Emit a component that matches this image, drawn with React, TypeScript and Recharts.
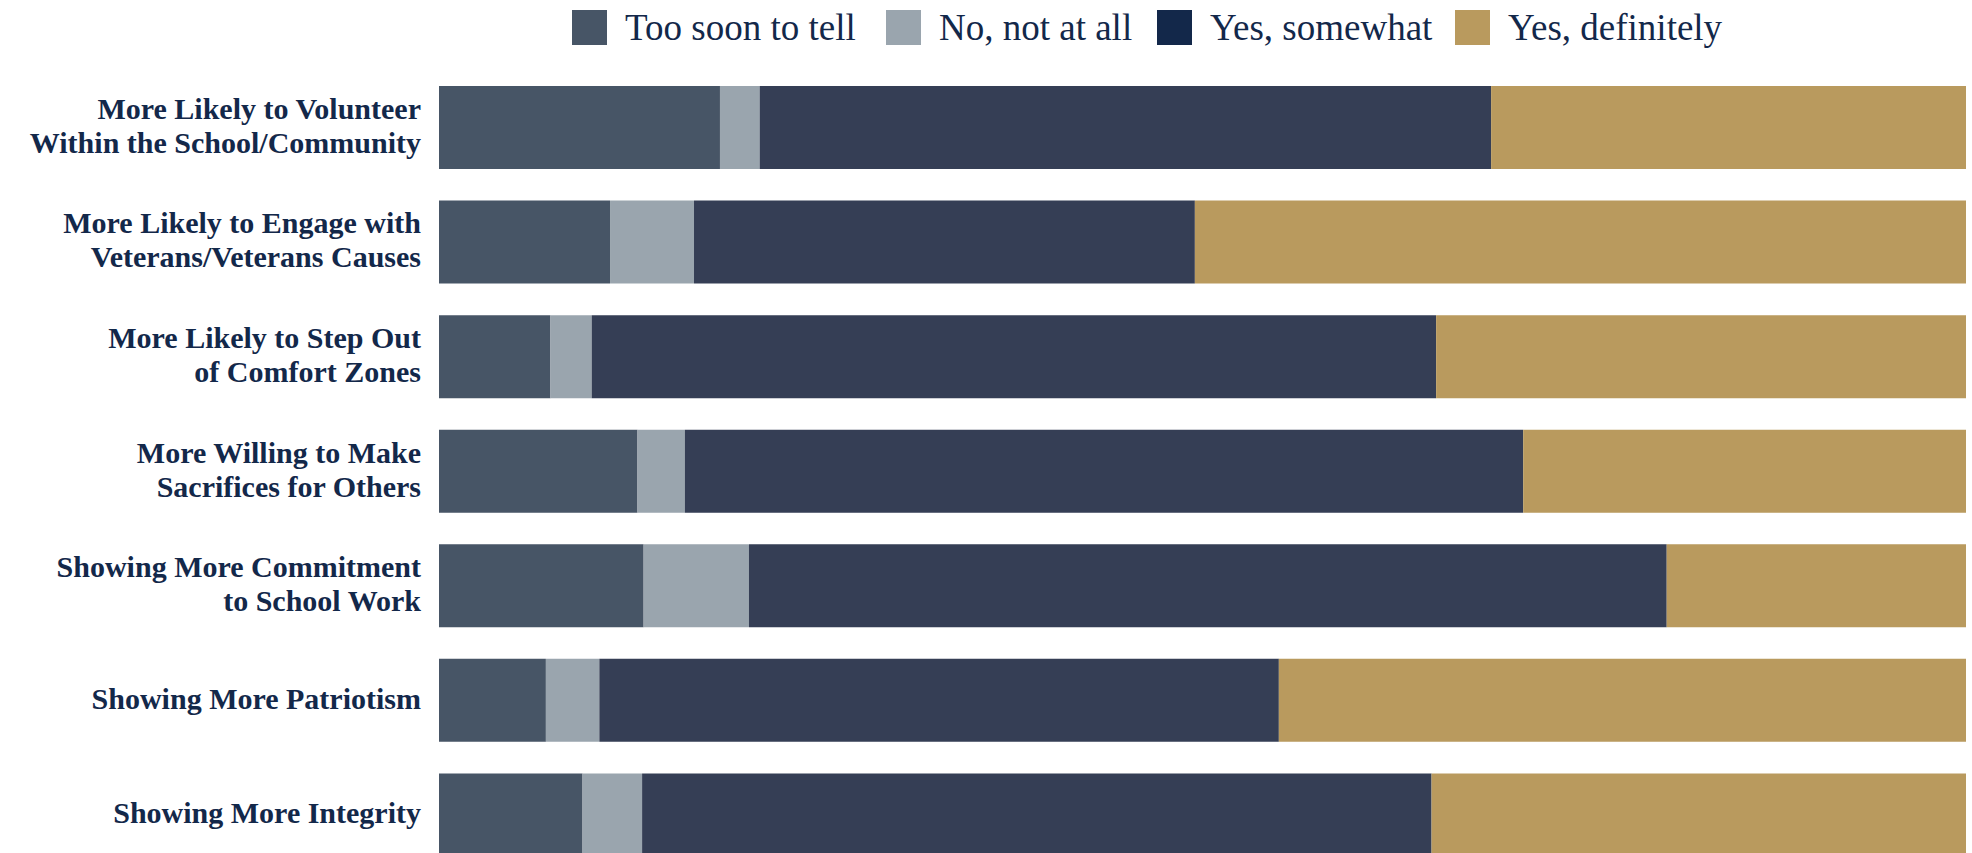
import { BarChart, Bar, XAxis, YAxis } from "recharts";

const CATEGORIES = [
  "More Likely to Volunteer\nWithin the School/Community",
  "More Likely to Engage with\nVeterans/Veterans Causes",
  "More Likely to Step Out\nof Comfort Zones",
  "More Willing to Make\nSacrifices for Others",
  "Showing More Commitment\nto School Work",
  "Showing More Patriotism",
  "Showing More Integrity",
];

const TOO_SOON = [18.4, 11.2, 7.3, 13.0, 13.4, 7.0, 9.4];
const NOT_AT_ALL = [2.6, 5.5, 2.7, 3.1, 6.9, 3.5, 3.9];
const SOMEWHAT = [47.9, 32.8, 55.3, 54.9, 60.1, 44.5, 51.7];
const DEFINITELY = [31.1, 50.5, 34.7, 29.0, 19.6, 45.0, 35.0];

const SERIES = [
  { key: "tooSoon", label: "Too soon to tell", fill: "#475566", legend: "#475566", w: 237 },
  { key: "notAtAll", label: "No, not at all", fill: "#9aa5ae", legend: "#9aa5ae", w: 194 },
  { key: "somewhat", label: "Yes, somewhat", fill: "#353e55", legend: "#13284a", w: 221 },
  { key: "definitely", label: "Yes, definitely", fill: "#b99a5e", legend: "#b99a5e", w: 205 },
];

const data = CATEGORIES.map((name, i) => ({
  name,
  tooSoon: TOO_SOON[i],
  notAtAll: NOT_AT_ALL[i],
  somewhat: SOMEWHAT[i],
  definitely: DEFINITELY[i],
}));

const TEXT = "#13284a";
const FONT = "'Liberation Serif', 'DejaVu Serif', serif";

function CategoryTick({ x, y, payload }: any) {
  const lines = String(payload.value).split("\n");
  const lh = 34;
  const start = y - ((lines.length - 1) * lh) / 2 - 2;
  return (
    <text
      x={x}
      y={start}
      textAnchor="end"
      fill={TEXT}
      fontFamily={FONT}
      fontWeight={700}
      fontSize={30}
    >
      {lines.map((l, i) => (
        <tspan key={i} x={x} y={start + i * lh} dy="0.35em">
          {l}
        </tspan>
      ))}
    </text>
  );
}

export default function App() {
  return (
    <div style={{ position: "absolute", left: 0, top: 0, width: 1972, height: 872 }}>
      <div
        style={{
          position: "absolute",
          left: 572,
          top: 10,
          height: 35,
          display: "flex",
          alignItems: "center",
          fontFamily: FONT,
          fontSize: 37,
          color: TEXT,
          whiteSpace: "nowrap",
        }}
      >
        {SERIES.map((s, i) => (
          <div
            key={s.key}
            style={{ display: "flex", alignItems: "center", marginLeft: i === 0 ? 0 : 24 }}
          >
            <span style={{ width: 35, height: 35, background: s.legend, display: "inline-block" }} />
            <span style={{ marginLeft: 18, lineHeight: "35px", width: s.w, display: "inline-block" }}>
              {s.label}
            </span>
          </div>
        ))}
      </div>
      <BarChart
        width={1972}
        height={872}
        data={data}
        layout="vertical"
        margin={{ top: 70, right: 6, bottom: 0, left: 0 }}
      >
        <XAxis type="number" domain={[0, 100]} hide />
        <YAxis
          type="category"
          dataKey="name"
          width={439}
          axisLine={false}
          tickLine={false}
          tickSize={0}
          tickMargin={18}
          interval={0}
          tick={<CategoryTick />}
        />
        {SERIES.map((s) => (
          <Bar
            key={s.key}
            dataKey={s.key}
            stackId="a"
            fill={s.fill}
            barSize={83}
            isAnimationActive={false}
          />
        ))}
      </BarChart>
    </div>
  );
}
